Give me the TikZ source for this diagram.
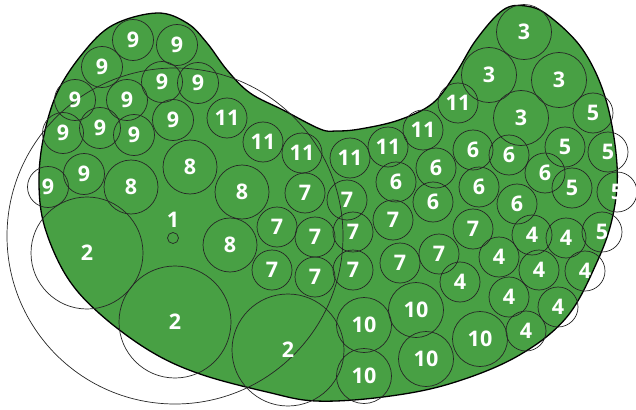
\documentclass[tikz,border=0pt]{standalone}
\usepackage{fontspec}
\setsansfont{Open Sans}
\usetikzlibrary{positioning}
\definecolor{leafgreen}{RGB}{72,160,68}

\begin{document}
\begin{tikzpicture}[
    x=1pt, y=-1pt,
    disc/.style={circle, draw=black!85, line width=0.7pt, inner sep=0pt,
        text=white, font=\sffamily\bfseries\fontsize{21.5}{21.5}\selectfont},
    outline/.style={draw=black, line width=1.3pt, fill=leafgreen},
    ring/.style={circle, draw=black!85, line width=0.7pt, inner sep=0pt}
]
\useasboundingbox (0,0) rectangle (636,409);

% kidney shaped area
\draw[outline] plot[smooth cycle, tension=0.6] coordinates {
    (157,13) (187,23) (207,43) (227,70) (250,93) (283,110) (320,129) (336,131)
    (360,129) (399,120) (433,103) (456,73) (476,40) (503,10) (526,6) (549,16)
    (583,50) (606,100) (617,165) (613,215) (597,262) (566,318) (516,357)
    (449,384) (383,397) (316,401) (267,392) (200,374) (150,351) (100,314)
    (67,277) (45,228) (39,185) (43,140) (57,93) (83,53) (113,25)};

% big circle 1 with its centre
\node[ring, minimum size=336pt] (c1) at (175,236) {};
\node[ring, minimum size=11pt] (c1m) at (173,238) {};
\node[disc, draw=none, above=2pt of c1m] (c1t) {1};

% circles 2
\foreach \x/\y [count=\i] in {87/253, 175/322, 288/350}
    \node[disc, minimum size=112pt] (c2\i) at (\x,\y) {2};
% circles 3
\foreach \x/\y [count=\i] in {524/32, 489/75, 559/80, 521/118}
    \node[disc, minimum size=55pt] (c3\i) at (\x,\y) {3};
% circles 4
\foreach \x/\y [count=\i] in {460/282, 499/257, 532/235, 566/238, 539/270,
        585/271, 509/297, 558/307, 526/331}
    \node[disc, minimum size=40pt] (c4\i) at (\x,\y) {4};
% circles 5
\foreach \x/\y [count=\i] in {593/113, 565/147, 608/152, 572/188, 617/192, 602/232}
    \node[disc, minimum size=40pt] (c5\i) at (\x,\y) {5};
% circles 6
\foreach \x/\y [count=\i] in {473/150, 509/155, 436/168, 545/173, 396/182,
        479/187, 433/202, 517/204}
    \node[disc, minimum size=40pt] (c6\i) at (\x,\y) {6};
% circles 7
\foreach \x/\y [count=\i] in {305/193, 347/200, 277/227, 315/237, 353/232,
        393/220, 272/270, 315/277, 353/270, 400/263, 439/254, 473/229}
    \node[disc, minimum size=40pt] (c7\i) at (\x,\y) {7};
% circles 8
\foreach \x/\y [count=\i] in {131/187, 190/167, 242/192, 230/245}
    \node[disc, minimum size=54pt] (c8\i) at (\x,\y) {8};
% circles 9
\foreach \x/\y [count=\i] in {133/40, 177/45, 102/67, 162/82, 198/83, 75/100,
        127/100, 173/120, 63/133, 100/128, 134/135, 84/174, 48/187}
    \node[disc, minimum size=41pt] (c9\i) at (\x,\y) {9};
% circles 10
\foreach \x/\y [count=\i] in {364/325, 416/310, 480/339, 426/359, 364/376}
    \node[disc, minimum size=55pt] (c10\i) at (\x,\y) {10};
% circles 11
\foreach \x/\y [count=\i] in {227/118, 263/142, 302/153, 350/158, 388/147,
        423/130, 458/103}
    \node[disc, minimum size=40pt] (c11\i) at (\x,\y) {11};
\end{tikzpicture}
\end{document}
